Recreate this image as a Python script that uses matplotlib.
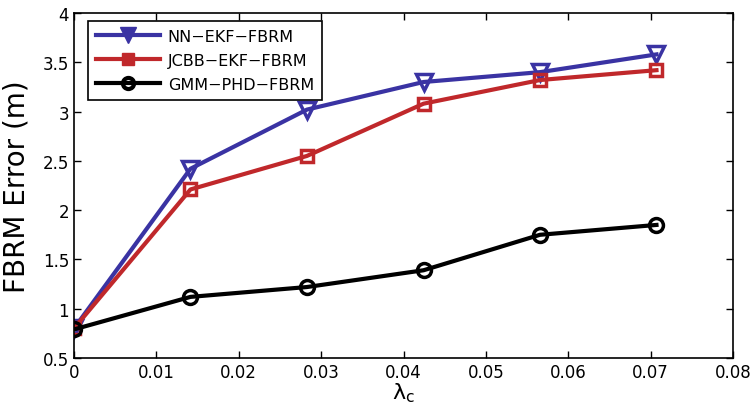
import numpy as np
import matplotlib.pyplot as plt
from matplotlib.lines import Line2D

lam = [0.0, 0.01414, 0.02828, 0.04243, 0.05657, 0.07071]
nn_ekf = [0.80, 2.42, 3.02, 3.30, 3.40, 3.58]
jcbb_ekf = [0.80, 2.21, 2.55, 3.08, 3.32, 3.42]
gmm_phd = [0.79, 1.12, 1.22, 1.39, 1.75, 1.85]
labels = ['NN\u2212EKF\u2212FBRM', 'JCBB\u2212EKF\u2212FBRM', 'GMM\u2212PHD\u2212FBRM']
colors = ['#3a33a3', '#c0282b', 'black']

plt.rcParams['font.family'] = ['DejaVu Sans']

fig = plt.figure(figsize=(7.55, 4.06), dpi=100)
ax = fig.add_axes([74/755, 1 - 359/406, (733-74)/755, (359-14)/406])

ax.plot(lam, nn_ekf, color=colors[0], lw=3, marker='v', ms=11,
        mfc='none', mew=2.5)
ax.plot(lam, jcbb_ekf, color=colors[1], lw=3, marker='s', ms=9,
        mfc='none', mew=2.5)
ax.plot(lam, gmm_phd, color=colors[2], lw=3, marker='o', ms=10,
        mfc='none', mew=2.5)

ax.set_xlim(0, 0.08)
ax.set_ylim(0.5, 4)
ax.set_xticks(np.arange(0, 0.081, 0.01))
ax.set_xticklabels(['0', '0.01', '0.02', '0.03', '0.04', '0.05', '0.06', '0.07', '0.08'])
ax.set_yticks(np.arange(0.5, 4.01, 0.5))
ax.set_yticklabels(['0.5', '1', '1.5', '2', '2.5', '3', '3.5', '4'])
ax.tick_params(direction='in', top=True, right=True, labelsize=12, length=5, width=1)
for s in ax.spines.values():
    s.set_linewidth(1.2)

ax.set_ylabel('FBRM Error (m)', fontsize=20, labelpad=9)
ax.set_xlabel(r'$\mathregular{\lambda_c}$', fontsize=16, labelpad=0)

# legend in the matlab style: filled markers
handles = [
    Line2D([], [], color=colors[0], lw=3, marker='v', ms=11),
    Line2D([], [], color=colors[1], lw=3, marker='s', ms=9),
    Line2D([], [], color=colors[2], lw=3, marker='o', ms=8, mfc='none', mew=3),
]
leg = ax.legend(handles, labels, loc='upper left',
                bbox_to_anchor=((88 - 74) / 659, 1 - (22 - 14) / 345),
                borderaxespad=0, fontsize=11.5, frameon=True,
                fancybox=False, edgecolor='black', framealpha=1,
                handlelength=4.0, labelspacing=0.55, handletextpad=0.5,
                borderpad=0.5)
leg.get_frame().set_linewidth(1.2)

fig.savefig('out.png', dpi=100)
